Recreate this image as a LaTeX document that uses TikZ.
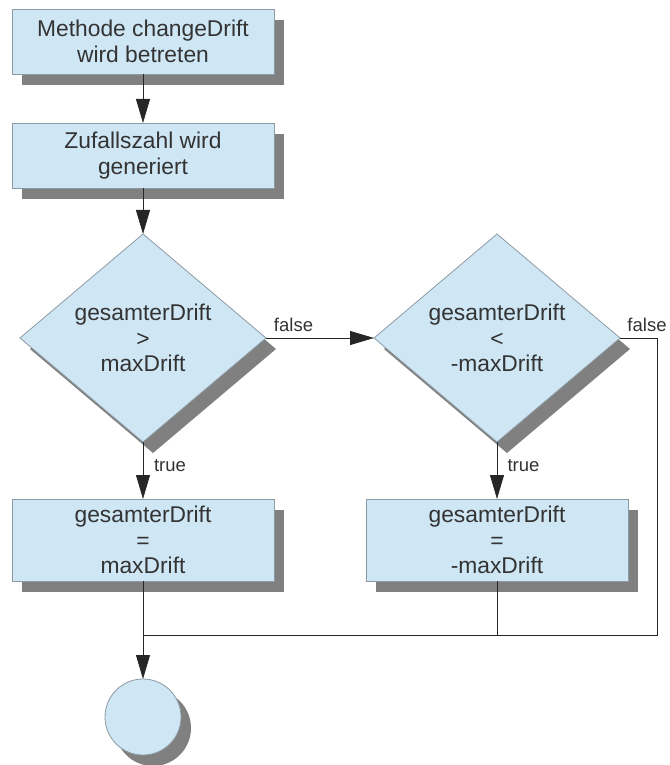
\documentclass[tikz,border=0pt]{standalone}
\usepackage{fontspec}
\setmainfont{Liberation Sans}
\usetikzlibrary{shapes.geometric,shadows,arrows.meta}
\definecolor{boxfill}{HTML}{CFE7F5}
\definecolor{boxline}{HTML}{8E9AA3}
\definecolor{shadowgray}{HTML}{808080}
\definecolor{txt}{HTML}{333333}
\tikzset{
  shade/.style={drop shadow={shadow xshift=10pt,shadow yshift=-11pt,fill=shadowgray,opacity=1}},
  base/.style={draw=boxline,fill=boxfill,line width=0.8pt,text=txt,align=center,inner sep=0pt,outer sep=0pt,
    font=\fontsize{22.8}{25.5}\selectfont,shade},
  stepbox/.style={base,rectangle,minimum width=262pt},
  decision/.style={base,diamond,minimum width=246pt,minimum height=208pt,aspect=1.18},
  endcircle/.style={base,circle,minimum size=76pt},
  flow/.style={draw=black!85,line width=0.8pt},
  arr/.style={flow,-{Triangle[length=24pt,width=14pt]}},
  lbl/.style={text=txt,font=\fontsize{18.5}{20}\selectfont,inner sep=0pt}
}
\begin{document}
\begin{tikzpicture}[x=1pt,y=-1pt]
  \useasboundingbox (0,0) rectangle (669,765);

  % process steps
  \node[stepbox,minimum height=65pt] (start) at (143,41.5) {Methode changeDrift\\wird betreten};
  \node[stepbox,minimum height=65pt] (rand) at (143,155.5) {Zufallszahl wird\\generiert};

  % decisions
  \node[decision] (d1) at (143,338) {gesamterDrift\\>\\maxDrift};
  \node[decision] (d2) at (497,338) {gesamterDrift\\<\\-maxDrift};

  % assignments
  \node[stepbox,minimum height=82pt] (a1) at (143,540) {gesamterDrift\\=\\maxDrift};
  \node[stepbox,minimum height=82pt] (a2) at (497,540) {gesamterDrift\\=\\-maxDrift};

  % end point
  \node[endcircle] (stop) at (143,717) {};

  % junction points of the merge line
  \coordinate (rightturn) at (657,338);
  \coordinate (rightbottom) at (657,635);
  \coordinate (merge) at (143,635);
  \coordinate (a2join) at (497,635);

  % connectors
  \draw[arr] (start) -- (rand);
  \draw[arr] (rand) -- (d1);
  \draw[arr] (d1.south) -- (a1.north);
  \draw[arr] (d1.east) -- (d2.west);
  \draw[arr] (d2.south) -- (a2.north);
  \draw[flow] (d2.east) -- (rightturn) -- (rightbottom) -- (merge);
  \draw[flow] (a2.south) -- (a2join);
  \draw[flow] (a1.south) -- (merge);
  \draw[arr] (merge) -- (stop.north);

  % branch labels
  \node[lbl] (f1) at (293.5,325) {false};
  \node[lbl] (f2) at (647,325) {false};
  \node[lbl] (t1) at (170,466) {true};
  \node[lbl] (t2) at (523.5,466) {true};
\end{tikzpicture}
\end{document}
